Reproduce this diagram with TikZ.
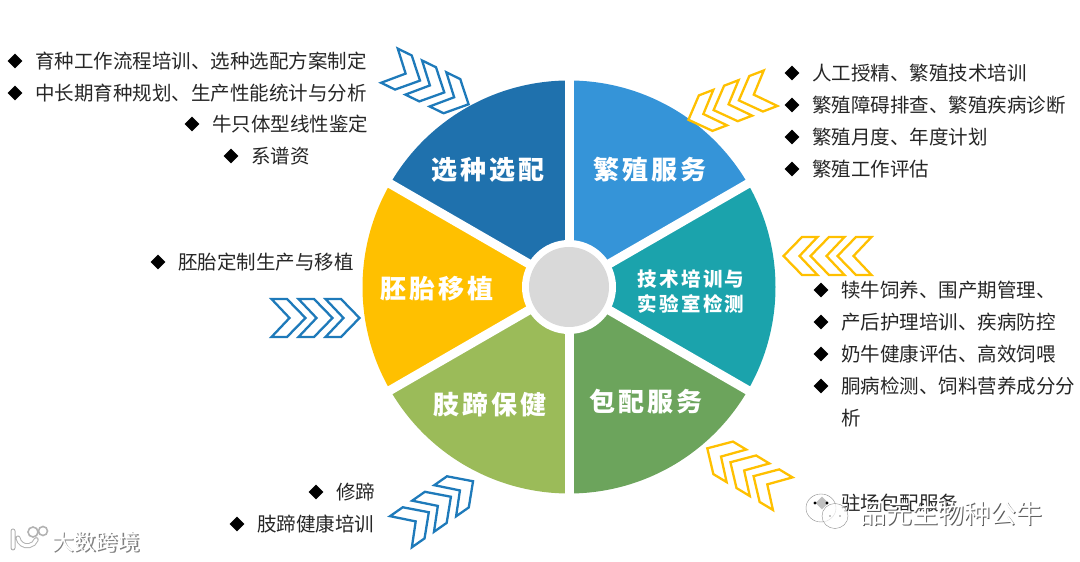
\documentclass[tikz,border=0pt]{standalone}
\usepackage{fontspec}
\setmainfont{Noto Sans CJK SC}
\newfontfamily\titlefont[LetterSpace=12]{Noto Sans CJK SC}
\usetikzlibrary{shapes.geometric}
\definecolor{wheelA}{HTML}{1F71AD}
\definecolor{wheelB}{HTML}{3594D8}
\definecolor{wheelC}{HTML}{1BA3AC}
\definecolor{wheelD}{HTML}{6CA45C}
\definecolor{wheelE}{HTML}{9BBB59}
\definecolor{wheelF}{HTML}{FFC000}
\definecolor{chevblue}{HTML}{1E7ABA}
\begin{document}
\begin{tikzpicture}[x=1pt,y=1pt,
  itemtext/.style={anchor=west,inner sep=0pt,text=black!85,font=\fontsize{19.5}{24}\selectfont},
  bullet/.style={diamond,fill=black,inner sep=0pt,minimum size=15pt},
  wheeltitle/.style={inner sep=0pt,text=white,align=center,font=\titlefont\bfseries\fontsize{26}{30}\selectfont},
  smalltitle/.style={inner sep=0pt,text=white,align=center,font=\titlefont\bfseries\fontsize{19.5}{25}\selectfont},
  bluechev/.style={color=chevblue},
  yellowchev/.style={color=wheelF},
  chevrons/.pic={
    \foreach \i in {-1,0,1}
      \draw[line width=2.3pt,miter limit=6,xshift=\i*27,xshift=-17] (0,19) -- (15.5,19) -- (34,0) -- (15.5,-19) -- (0,-19) -- (18,0) -- cycle;
  }]
\useasboundingbox (0,0) rectangle (1080,562);
% Wheel
\foreach \ang/\col in {90/wheelA,150/wheelF,210/wheelE,270/wheelD,330/wheelC,30/wheelB}
  \fill[\col] (569,275) -- ++(\ang:206.5) arc (\ang:\ang+60:206.5) -- cycle;
\foreach \ang in {30,90,...,330}
  \draw[white,line width=9pt] (569,275) -- ++(\ang:215);
\fill[white] (569,275) circle (47);
\fill[black!15] (569,275) circle (40);
% Wheel titles
\node[wheeltitle] (select) at (488,392) {选种选配};
\node[wheeltitle] (breed) at (650,392) {繁殖服务};
\node[wheeltitle] (embryo) at (437,273) {胚胎移植};
\node[wheeltitle] (hoof) at (490,157) {肢蹄保健};
\node[wheeltitle] (contract) at (646,160) {包配服务};
\node[smalltitle] (train) at (691,270) {技术培训与\\实验室检测};
% Chevrons
\pic[rotate=-26,bluechev] at (429,477) {chevrons};
\pic[rotate=201,yellowchev] at (729.5,458) {chevrons};
\pic[rotate=180,yellowchev] at (827.5,306) {chevrons};
\pic[rotate=149,yellowchev] at (745,91) {chevrons};
\pic[rotate=35,bluechev] at (437,55.5) {chevrons};
\pic[rotate=0,bluechev] at (315.5,244) {chevrons};
% Lists
\foreach \n/\xb/\xt/\y/\txt in {
  a1/15/35/501/育种工作流程培训、选种选配方案制定,
  a2/15/35/469/中长期育种规划、生产性能统计与分析,
  a3/192/212/438/牛只体型线性鉴定,
  a4/231/251/406/系谱资,
  b1/158/178/300/胚胎定制生产与移植,
  c1/316/336/70/修蹄,
  c2/237/257/38/肢蹄健康培训,
  d1/792/812/489/人工授精、繁殖技术培训,
  d2/792/812/457/繁殖障碍排查、繁殖疾病诊断,
  d3/792/812/425/繁殖月度、年度计划,
  d4/792/812/393/繁殖工作评估,
  e1/821/841/272/犊牛饲养、围产期管理、,
  e2/821/841/240/产后护理培训、疾病防控,
  e3/821/841/208/奶牛健康评估、高效饲喂,
  e4/821/841/176/胴病检测、饲料营养成分分}{
  \node[bullet] (dot\n) at (\xb,\y) {};
  \node[itemtext] (item\n) at (\xt,\y) {\txt};
}
\node[itemtext] (iteme5) at (841,144) {析};
\node[itemtext] (itemf1) at (841,59) {驻场包配服务};
% Watermarks
\draw[black!45,fill=white,fill opacity=0.6] (821,54) ellipse (15 and 14);
\draw[black!45,fill=white,fill opacity=0.7] (835,46) ellipse (13 and 12.5);
\node[bullet,fill=black!25,minimum size=13pt] (dotf1) at (822,59) {};
\fill (815,59) circle (1.6) (827,59) circle (1.6);
\fill[black!45] (830,46) circle (0.9) (840,46) circle (0.9);
\node[inner sep=0pt,text=black!65,font=\fontsize{26}{30}\selectfont] (markb) at (952,47.5) {品元生物种公牛};
\node[inner sep=0pt,text=white,font=\fontsize{26}{30}\selectfont] (marka) at (951,48.5) {品元生物种公牛};
\draw[black!30,line width=5pt,line cap=round] (13,31) -- (13,14) (18,24) arc (190:340:9.5);
\draw[white,line width=3pt,line cap=round] (13,31) -- (13,14) (18,24) arc (190:340:9.5);
\draw[black!30,line width=1.6pt] (33,30) circle (5) (43,31) circle (4.5);
\node[inner sep=0pt,text=black!50,font=\fontsize{22}{26}\selectfont] (brandb) at (97,19) {大数跨境};
\node[inner sep=0pt,text=white,font=\fontsize{22}{26}\selectfont] (branda) at (96,20) {大数跨境};
\end{tikzpicture}
\end{document}
